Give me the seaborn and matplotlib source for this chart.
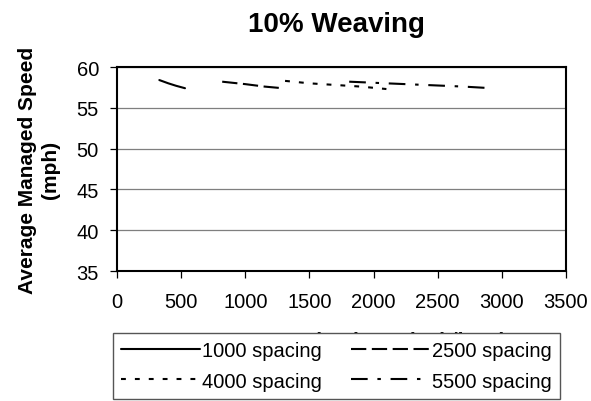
import matplotlib
matplotlib.use("Agg")
import matplotlib.pyplot as plt
import seaborn as sns
import pandas as pd

# ---- data ----
x_1000 = [330, 400, 460, 530]
y_1000 = [58.4, 58.0, 57.7, 57.4]
x_2500 = [820, 1000, 1150, 1290]
y_2500 = [58.2, 57.9, 57.6, 57.4]
x_4000 = [1310, 1500, 1700, 1900, 2100]
y_4000 = [58.3, 58.0, 57.8, 57.6, 57.3]
x_5500 = [1810, 2100, 2400, 2700, 2920]
y_5500 = [58.2, 58.0, 57.8, 57.6, 57.4]
series_names = ["1000 spacing", "2500 spacing", "4000 spacing", "5500 spacing"]
x_ticks = [0, 500, 1000, 1500, 2000, 2500, 3000, 3500]
y_ticks = [35, 40, 45, 50, 55, 60]
title = "10% Weaving"
y_label = "Average Managed Speed\n(mph)"
x_label = "Ramp Demand Volume (vph/lane)"

sns.set_style("white")
plt.rcParams["font.family"] = ["Liberation Sans", "DejaVu Sans"]
plt.rcParams["lines.scale_dashes"] = False
for k in ["text.color", "axes.labelcolor", "xtick.color", "ytick.color"]:
    plt.rcParams[k] = "black"

fig = plt.figure(figsize=(5.91, 4.02), dpi=100)
ax = fig.add_axes([117/591, 1 - 272/402, (566-117)/591, (272-68)/402])

xs = [x_1000, x_2500, x_4000, x_5500]
ys = [y_1000, y_2500, y_4000, y_5500]
dashes = [None, (11, 4), (3.5, 6.5), (12, 7, 2.5, 7)]
for name, xv, yv, d in zip(series_names, xs, ys, dashes):
    df = pd.DataFrame({"x": xv, "y": yv})
    sns.lineplot(data=df, x="x", y="y", ax=ax, color="black", lw=1.5,
                 label=name, legend=False, sort=False)
    ln = ax.lines[-1]
    if d is not None:
        ln.set_dashes(d)

ax.set_xlim(0, 3500)
ax.set_ylim(35, 60)
ax.set_xticks(x_ticks)
ax.set_yticks(y_ticks)
ax.yaxis.grid(True, color="#7f7f7f", lw=0.9)
ax.xaxis.grid(False)
for s in ax.spines.values():
    s.set_color("black")
    s.set_linewidth(1.5)
ax.tick_params(axis="both", direction="out", length=5, width=0.9,
               colors="black", labelsize=14.5, bottom=True, left=True)
ax.tick_params(axis="x", pad=10)
ax.tick_params(axis="y", pad=8)

ax.set_title(title, fontsize=20, fontweight="bold", pad=26, x=0.488)
ax.set_ylabel(y_label, fontsize=15, fontweight="bold", linespacing=1.3, va="center")
ax.yaxis.set_label_coords(-0.174, 0.5)
ax.set_xlabel(x_label, fontsize=15, fontweight="bold", va="top")
ax.xaxis.set_label_coords(0.5, -0.295)

lines = ax.lines[:4]
order = [0, 2, 1, 3]  # row-major fill like the reference
handles = [lines[i] for i in order]
labels = [series_names[i] for i in order]
leg = fig.legend(handles, labels, ncol=2, loc="lower left",
                 bbox_to_anchor=(113/591, 2/402, (560-113)/591, (399-333)/402),
                 mode="expand", fontsize=14.5, frameon=True, fancybox=False,
                 edgecolor="#555555", framealpha=1, facecolor="white",
                 handlelength=3.9, handletextpad=0.1, columnspacing=0.6,
                 borderpad=0.42, labelspacing=0.55, borderaxespad=0)
leg.get_frame().set_linewidth(1.0)

fig.savefig("out.png", dpi=100)
